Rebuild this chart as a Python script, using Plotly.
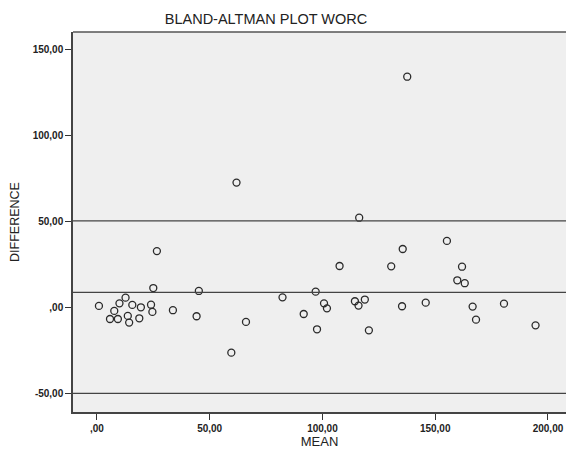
import plotly.graph_objects as go

mean_vals = [0.9, 5.8, 7.7, 9.3, 10.0, 12.7, 13.7, 14.3, 15.7, 18.8, 19.5, 24.0, 24.6, 25.0,
             26.6, 33.7, 44.2, 45.2, 61.9, 59.6, 66.1, 82.3, 91.7,
             137.6, 116.3, 155.2, 135.6, 107.6, 130.5, 161.9, 159.8, 163.1, 97.0, 100.7,
             102.0, 114.4, 116.0, 118.8, 135.3, 145.8, 166.6, 180.5, 168.1, 194.5, 97.6, 120.6]
diff_vals = [0.9, -6.7, -2.0, -6.7, 2.4, 5.7, -4.9, -8.8, 1.5, -6.3, 0.1, 1.6, -2.6, 11.3,
             32.8, -1.6, -5.1, 9.6, 72.6, -26.3, -8.4, 5.9, -3.8,
             134.2, 52.2, 38.7, 34.0, 24.1, 23.9, 23.7, 15.8, 14.1, 9.2, 2.4,
             -0.5, 3.6, 1.1, 4.6, 0.7, 2.8, 0.5, 2.2, -7.1, -10.4, -12.7, -13.3]
ref_lines = [50.3, 8.8, -50.0]
x_ticks = [0, 50, 100, 150, 200]
x_labels = [",00", "50,00", "100,00", "150,00", "200,00"]
y_ticks = [-50, 0, 50, 100, 150]
y_labels = ["-50,00", ",00", "50,00", "100,00", "150,00"]

FONT = "Arial, Liberation Sans, sans-serif"

fig = go.Figure()
fig.add_trace(go.Scatter(
    x=mean_vals, y=diff_vals, mode="markers",
    marker=dict(symbol="circle-open", size=7, color="#2a2a2a", line=dict(width=1.3)),
    showlegend=False))

for v in ref_lines:
    fig.add_hline(y=v, line=dict(color="#444444", width=1.3))

fig.update_layout(
    width=566, height=451,
    margin=dict(l=73, r=0, t=32, b=39),
    paper_bgcolor="white", plot_bgcolor="#efefef",
    title=dict(text="BLAND-ALTMAN PLOT WORC", x=0.47, xanchor="center", xref="container",
               y=1, yanchor="top", yref="container", pad=dict(t=14),
               font=dict(family=FONT, size=14.5, color="#222222")),
    xaxis=dict(range=[-10.6, 208], tickvals=x_ticks,
               ticktext=["<b>%s</b>" % t for t in x_labels],
               ticks="outside", ticklen=6, tickcolor="#333", showgrid=False, zeroline=False,
               showline=True, linecolor="#444", linewidth=1.5, mirror=False,
               tickfont=dict(family=FONT, size=10, color="#222"),
               title=dict(text="MEAN", standoff=3,
                          font=dict(family=FONT, size=13, color="#222"))),
    yaxis=dict(range=[-60.8, 160.2], tickvals=y_ticks,
               ticktext=["<b>%s</b>" % t for t in y_labels],
               ticks="outside", ticklen=6, tickcolor="#333", showgrid=False, zeroline=False,
               showline=True, linecolor="#444", linewidth=1.5,
               tickfont=dict(family=FONT, size=10, color="#222"),
               title=dict(text="DIFFERENCE", standoff=10,
                          font=dict(family=FONT, size=12.5, color="#222"))),
)
fig.add_shape(type="line", xref="paper", yref="paper", x0=0, x1=1, y0=1, y1=1,
              line=dict(color="#555", width=1.5))
fig.write_html("out.html", config={"displayModeBar": False},
               post_script="document.body.style.margin='0';")
